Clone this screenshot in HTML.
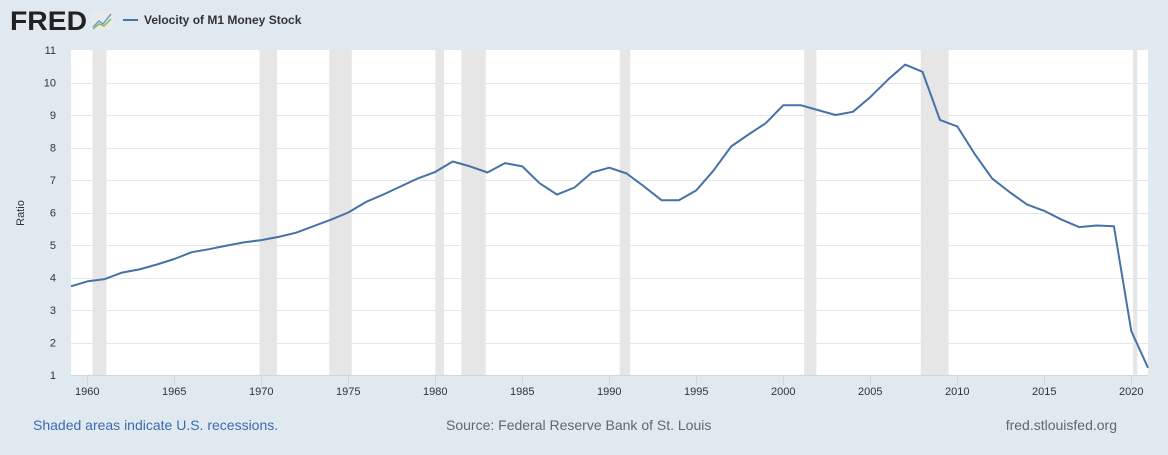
<!DOCTYPE html>
<html><head><meta charset="utf-8"><style>
body{margin:0;background:#e1e9f0;width:1168px;height:450px;overflow:hidden;font-family:"Liberation Sans",Arial,sans-serif}
</style></head><body>
<svg id="s" width="1168" height="450" xmlns="http://www.w3.org/2000/svg" font-family="Liberation Sans, Arial, sans-serif">
<rect width="1168" height="450" fill="#e1e9f0"/>
<text x="10" y="30" font-size="27" font-weight="bold" fill="#222" textLength="77" lengthAdjust="spacingAndGlyphs">FRED</text>
<rect x="91" y="11" width="22" height="19" rx="2" fill="#e8eaec"/>
<polyline points="93,27 99,21 103,24 111,14" fill="none" stroke="#6a9fcf" stroke-width="1.5"/>
<polyline points="93,29 99,24 104,26 111,19" fill="none" stroke="#8cb85a" stroke-width="1.5"/>
<line x1="123" y1="20" x2="138" y2="20" stroke="#4572a7" stroke-width="2"/>
<text x="144" y="24" font-size="12" font-weight="bold" fill="#333">Velocity of M1 Money Stock</text>
<rect x="71" y="50" width="1077" height="325" fill="#fff"/>
<g id="rec" fill="#e6e6e6"></g>
<g id="grid" stroke="#e6e6e6" stroke-width="1"></g>
<line x1="71" y1="375.5" x2="1148" y2="375.5" stroke="#ccd6eb"/>
<g id="lab" font-size="11" fill="#333"></g>
<text transform="translate(24,213) rotate(-90)" text-anchor="middle" font-size="11" fill="#333">Ratio</text>
<path id="p" fill="none" stroke="#4572a7" stroke-width="2" stroke-linejoin="round"/>
<text x="33" y="430" font-size="14" fill="#3b6bb0">Shaded areas indicate U.S. recessions.</text>
<text x="446" y="430" font-size="14" fill="#666">Source: Federal Reserve Bank of St. Louis</text>
<text x="1117" y="430" font-size="14" fill="#666" text-anchor="end">fred.stlouisfed.org</text>
</svg>
<script>
var NS="http://www.w3.org/2000/svg";
function X(y){return 87.3+(y-1960)*17.4}
function Y(v){return 50+(11-v)*32.5}
function el(t,a,p,txt){var e=document.createElementNS(NS,t);for(var k in a)e.setAttribute(k,a[k]);if(txt)e.textContent=txt;document.getElementById(p).appendChild(e);}
[[1960.3,1961.1],[1969.9,1970.9],[1973.9,1975.2],[1980.0,1980.5],[1981.5,1982.9],[1990.6,1991.2],[2001.2,2001.9],[2007.9,2009.5],[2020.1,2020.35]].forEach(function(r){el("rect",{x:X(r[0]),y:50,width:X(r[1])-X(r[0]),height:325},"rec")});
for(var v=1;v<=11;v++){if(v>1&&v<11)el("line",{x1:71,x2:1148,y1:Math.round(Y(v))+.5,y2:Math.round(Y(v))+.5},"grid");el("text",{x:56,y:Y(v)+4,"text-anchor":"end"},"lab",""+v);}
for(var y=1960;y<=2020;y+=5){el("line",{x1:Math.round(X(y))+.5,x2:Math.round(X(y))+.5,y1:375,y2:385,stroke:"#ccd6eb"},"lab");el("text",{x:X(y),y:395,"text-anchor":"middle"},"lab",""+y);}
var d=[3.73,3.88,3.95,4.15,4.25,4.4,4.57,4.78,4.87,4.98,5.08,5.15,5.25,5.38,5.58,5.78,6.0,6.32,6.55,6.8,7.05,7.25,7.57,7.42,7.23,7.52,7.42,6.9,6.55,6.77,7.23,7.38,7.2,6.8,6.38,6.38,6.68,7.3,8.03,8.4,8.75,9.3,9.3,9.15,9.0,9.1,9.55,10.08,10.55,10.33,8.85,8.65,7.8,7.05,6.63,6.25,6.05,5.78,5.55,5.6,5.58,2.35,1.22];
var s="";d.forEach(function(v,i){var x=Math.max(71,Math.min(1148,X(1959+i)));s+=(i?"L":"M")+x.toFixed(1)+","+Y(v).toFixed(1)});
document.getElementById("p").setAttribute("d",s);
</script>
</body></html>
